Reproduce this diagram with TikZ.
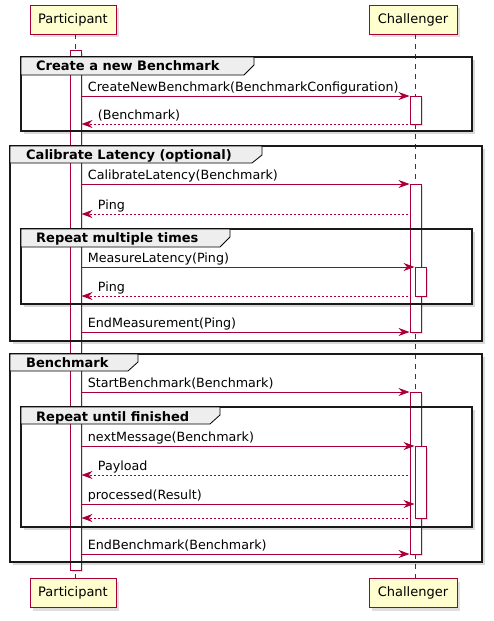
\documentclass[tikz,border=0pt]{standalone}
\usepackage{fontspec}
\setmainfont{DejaVu Sans}
\usetikzlibrary{shapes,shadows}
\usetikzlibrary{arrows.meta}
\definecolor{umlred}{HTML}{A80036}
\definecolor{umlyellow}{HTML}{FEFECE}
\definecolor{umlgrey}{HTML}{EEEEEE}

\begin{document}
\begin{tikzpicture}[x=1pt,y=-1pt,
  actor/.style={draw=umlred, fill=umlyellow, line width=0.9pt, minimum height=29pt, inner sep=0pt,
    font=\fontsize{13}{15}\selectfont, drop shadow={shadow xshift=3pt, shadow yshift=-3pt, opacity=.25}},
  lifeline/.style={umlred, line width=0.8pt, dash pattern=on 5pt off 5pt},
  bar/.style={draw=umlred, fill=white, line width=0.9pt, minimum width=11pt, inner sep=0pt,
    drop shadow={shadow xshift=2pt, shadow yshift=-2pt, opacity=.25}},
  msg/.style={umlred, line width=0.9pt, -{Stealth[length=11pt,width=8pt,inset=3.5pt]}},
  ret/.style={msg, dash pattern=on 2pt off 2pt},
  lbl/.style={black, anchor=base west, inner sep=0pt, font=\fontsize{12.7}{14}\selectfont},
  shade/.style={fill=white, drop shadow={shadow xshift=3pt, shadow yshift=-3pt, opacity=.3}},
  frame/.style={draw=black!90, line width=1.6pt},
  tab/.style={draw=black, fill=umlgrey, line width=0.8pt},
  ttl/.style={anchor=base west, inner sep=0pt, font=\bfseries\fontsize{13}{15}\selectfont}
]
\useasboundingbox (0,0) rectangle (494,621);

% group bodies with their shadows
\path[shade] (10,146) rectangle (482,341);
\path[shade] (21,229) rectangle (472,304);
\path[shade] (10,354) rectangle (482,562);
\path[shade] (21,407) rectangle (472,527);
\path[shade] (21,57) rectangle (472,131);

% participants
\node[actor, minimum width=86pt] (ptop) at (73,19.5) {Participant};
\node[actor, minimum width=88pt] (ctop) at (413,19.5) {Challenger};
\node[actor, minimum width=86pt] (pbot) at (73,593) {Participant};
\node[actor, minimum width=88pt] (cbot) at (413,593) {Challenger};

\coordinate (pl) at (75.5,0);
\coordinate (cl) at (415.5,0);
\draw[lifeline] (ptop.south -| pl) -- (pbot.north -| pl);
\draw[lifeline] (ctop.south -| cl) -- (cbot.north -| cl);
\node[bar, minimum height=519.3pt] (pact) at (75.5,310.35) {};

% activations of the challenger
\node[bar, minimum height=28pt] (c1) at (415.5,110) {};
\node[bar, minimum height=148pt] (c2) at (415.5,258) {};
\node[bar, minimum height=29pt] (c3) at (420.5,281.5) {};
\node[bar, minimum height=162pt] (c4) at (415.5,473) {};
\node[bar, minimum height=72pt] (c5) at (420.5,482) {};

% group frames
\draw[frame] (21,57) rectangle (472,131);
\draw[tab] (21,57) -- (254,57) -- (254,65) -- (244,75) -- (21,75) -- cycle;
\node[ttl] (g1) at (36,70) {Create a new Benchmark};

\draw[frame] (10,146) rectangle (482,341);
\draw[tab] (10,146) -- (262,146) -- (262,155) -- (252,163) -- (10,163) -- cycle;
\node[ttl] (g2) at (26,159) {Calibrate Latency (optional)};

\draw[frame] (21,229) rectangle (472,304);
\draw[tab] (21,229) -- (230,229) -- (230,237) -- (220,247) -- (21,247) -- cycle;
\node[ttl] (g3) at (36,242) {Repeat multiple times};

\draw[frame] (10,354) rectangle (482,562);
\draw[tab] (10,354) -- (138,354) -- (138,362) -- (128,371) -- (10,371) -- cycle;
\node[ttl] (g4) at (26,367) {Benchmark};

\draw[frame] (21,407) rectangle (472,527);
\draw[tab] (21,407) -- (220,407) -- (220,415) -- (210,424) -- (21,424) -- cycle;
\node[ttl] (g5) at (36,421) {Repeat until finished};

% messages
\coordinate (m1) at (0,96);
\coordinate (r1) at (0,124);
\coordinate (m2) at (0,184);
\coordinate (r2) at (0,214);
\coordinate (m3) at (0,267);
\coordinate (r3) at (0,296);
\coordinate (m4) at (0,332);
\coordinate (m5) at (0,392);
\coordinate (m6) at (0,446);
\coordinate (r6) at (0,475);
\coordinate (m7) at (0,504);
\coordinate (r7) at (0,518);
\coordinate (m8) at (0,554);

\draw[msg] (pact.east |- m1) -- (c1.west |- m1) node[lbl, pos=0, xshift=6pt, yshift=5pt] {CreateNewBenchmark(BenchmarkConfiguration)};
\draw[ret] ([xshift=-2pt]c1.west |- r1) -- (pact.east |- r1) node[lbl, pos=1, xshift=16pt, yshift=5pt] {(Benchmark)};

\draw[msg] (pact.east |- m2) -- (c2.west |- m2) node[lbl, pos=0, xshift=6pt, yshift=5pt] {CalibrateLatency(Benchmark)};
\draw[ret] ([xshift=-2pt]c2.west |- r2) -- (pact.east |- r2) node[lbl, pos=1, xshift=16pt, yshift=5pt] {Ping};
\draw[msg] (pact.east |- m3) -- (c3.west |- m3) node[lbl, pos=0, xshift=6pt, yshift=5pt] {MeasureLatency(Ping)};
\draw[ret] ([xshift=-2pt]c2.west |- r3) -- (pact.east |- r3) node[lbl, pos=1, xshift=16pt, yshift=5pt] {Ping};
\draw[msg] (pact.east |- m4) -- (c2.west |- m4) node[lbl, pos=0, xshift=6pt, yshift=5pt] {EndMeasurement(Ping)};

\draw[msg] (pact.east |- m5) -- (c4.west |- m5) node[lbl, pos=0, xshift=6pt, yshift=5pt] {StartBenchmark(Benchmark)};
\draw[msg] (pact.east |- m6) -- (c5.west |- m6) node[lbl, pos=0, xshift=6pt, yshift=5pt] {nextMessage(Benchmark)};
\draw[ret] ([xshift=-2pt]c4.west |- r6) -- (pact.east |- r6) node[lbl, pos=1, xshift=16pt, yshift=5pt] {Payload};
\draw[msg] (pact.east |- m7) -- (c5.west |- m7) node[lbl, pos=0, xshift=6pt, yshift=5pt] {processed(Result)};
\draw[ret] ([xshift=-2pt]c4.west |- r7) -- (pact.east |- r7);
\draw[msg] (pact.east |- m8) -- (c4.west |- m8) node[lbl, pos=0, xshift=6pt, yshift=5pt] {EndBenchmark(Benchmark)};
\end{tikzpicture}
\end{document}
